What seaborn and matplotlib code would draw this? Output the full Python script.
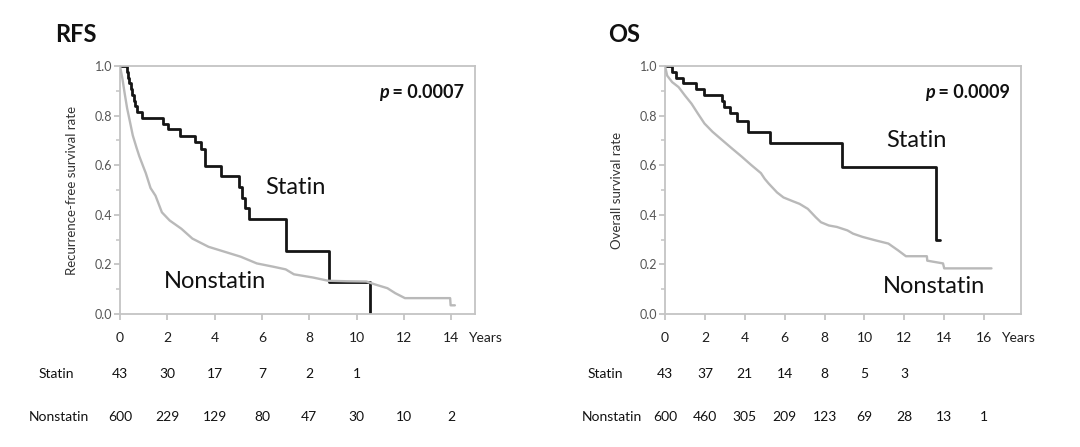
import numpy as np
import pandas as pd
import matplotlib
matplotlib.use("Agg")
import matplotlib.pyplot as plt
import matplotlib.transforms as mtransforms
from matplotlib.ticker import MultipleLocator
import seaborn as sns

# ---- RFS ----
rfs_statin_t = [0, 0.31, 0.34, 0.40, 0.45, 0.52, 0.58, 0.63, 0.70, 0.95, 1.81, 2.01, 2.52,
                3.17, 3.44, 3.60, 4.26, 5.04, 5.14, 5.28, 5.46, 7.00, 8.85, 10.55]
rfs_statin_s = [1.0, 0.977, 0.953, 0.930, 0.907, 0.884, 0.860, 0.837, 0.814, 0.791, 0.767, 0.744, 0.719,
                0.692, 0.664, 0.595, 0.557, 0.512, 0.469, 0.427, 0.384, 0.256, 0.129, 0.0]
rfs_non_t = [0, 0.1, 0.2, 0.3, 0.41, 0.54, 0.7, 0.82, 1.0, 1.09, 1.29, 1.5, 1.77, 2.1, 2.59, 3.06,
             3.74, 4.42, 5.1, 5.78, 6.46, 7.0, 7.35, 8.16, 8.8, 9.6, 10.41, 10.75, 11.3, 11.63,
             12.04, 13.95, 13.97, 14.15]
rfs_non_s = [1.0, 0.95, 0.888, 0.83, 0.78, 0.72, 0.67, 0.635, 0.59, 0.568, 0.508, 0.477, 0.41, 0.377,
             0.344, 0.304, 0.271, 0.251, 0.231, 0.204, 0.191, 0.18, 0.16, 0.147, 0.134, 0.132, 0.131,
             0.12, 0.104, 0.084, 0.064, 0.064, 0.035, 0.035]

# ---- OS ----
os_statin_t = [0, 0.36, 0.57, 0.92, 1.57, 1.98, 2.87, 2.95, 3.27, 3.60, 4.16, 5.26, 8.85, 13.6, 13.8]
os_statin_s = [1.0, 0.977, 0.953, 0.930, 0.907, 0.884, 0.860, 0.836, 0.81, 0.78, 0.735, 0.69, 0.593,
               0.299, 0.299]
os_non_t = [0, 0.11, 0.36, 0.68, 1.0, 1.33, 1.65, 1.98, 2.38, 2.87, 3.35, 3.84, 4.32, 4.81, 5.0,
            5.21, 5.62, 5.94, 6.4, 6.75, 7.16, 7.56, 7.82, 8.21, 8.62, 9.15, 9.43, 9.9, 10.55, 11.2,
            11.68, 12.08, 13.13, 13.15, 13.94, 14.0, 16.37]
os_non_s = [1.0, 0.961, 0.935, 0.915, 0.881, 0.848, 0.808, 0.768, 0.735, 0.701, 0.668, 0.635, 0.601,
            0.568, 0.545, 0.525, 0.49, 0.47, 0.455, 0.444, 0.424, 0.39, 0.37, 0.357, 0.351, 0.337,
            0.324, 0.311, 0.297, 0.284, 0.257, 0.233, 0.233, 0.215, 0.204, 0.184, 0.184]

# ---- numbers at risk ----
rfs_years = [0, 2, 4, 6, 8, 10, 12, 14]
rfs_risk_statin = [43, 30, 17, 7, 2, 1]
rfs_risk_non = [600, 229, 129, 80, 47, 30, 10, 2]
os_years = [0, 2, 4, 6, 8, 10, 12, 14, 16]
os_risk_statin = [43, 37, 21, 14, 8, 5, 3]
os_risk_non = [600, 460, 305, 209, 123, 69, 28, 13, 1]

sns.set_style("ticks")
plt.rcParams['font.family'] = ['Lato', 'DejaVu Sans']

W, H = 1080, 447
fig = plt.figure(figsize=(W / 100, H / 100), dpi=100)

def px(x0, y0, x1, y1):
    return [x0 / W, 1 - y1 / H, (x1 - x0) / W, (y1 - y0) / H]

ax1 = fig.add_axes(px(120, 66, 475, 314))
ax2 = fig.add_axes(px(665, 66, 1021, 314))

frame = '#c4c4c4'


def km_panel(ax, st_t, st_s, ns_t, ns_s, xmax, years, ylabel, pval, lab_statin, lab_non, years_x):
    sns.lineplot(x=st_t, y=st_s, ax=ax, color='#151515', lw=2.0, drawstyle='steps-post',
                 estimator=None, sort=False, zorder=2)
    sns.lineplot(x=ns_t, y=ns_s, ax=ax, color='#b9b9b9', lw=1.7, estimator=None, sort=False, zorder=3)
    ax.set_xlim(0, xmax)
    ax.set_ylim(0, 1)
    ax.set_xticks(years)
    ax.set_xticklabels([str(y) for y in years])
    ax.set_yticks(np.arange(0, 1.01, 0.2))
    ax.set_yticklabels(['%.1f' % v for v in np.arange(0, 1.01, 0.2)])
    ax.yaxis.set_minor_locator(MultipleLocator(0.1))
    for s in ax.spines.values():
        s.set_color(frame)
        s.set_linewidth(1.3)
    ax.tick_params(axis='x', which='major', length=4, width=1.3, color=frame, pad=9,
                   labelsize=10, labelcolor='#1e1e1e')
    ax.tick_params(axis='y', which='major', length=4, width=1.3, color=frame, pad=1.5,
                   labelsize=9, labelcolor='#555555')
    ax.tick_params(axis='y', which='minor', length=3, width=1.1, color=frame)
    ax.set_xlabel('')
    ax.set_ylabel(ylabel, fontsize=9.5, color='#333333', labelpad=12)
    ax.text(lab_statin[0], lab_statin[1], 'Statin', fontsize=17, ha='center', va='center',
            color='#111111')
    ax.text(lab_non[0], lab_non[1], 'Nonstatin', fontsize=17, ha='center', va='center',
            color='#111111')
    # p value: italic p + bold rest
    tv = ax.text(0.97, 0.895, ' = ' + pval, transform=ax.transAxes, fontsize=13,
                 fontweight='bold', ha='right', va='center', color='#111111')
    fig.canvas.draw()
    bb = tv.get_window_extent()
    inv = ax.transAxes.inverted()
    xl = inv.transform((bb.x0, bb.y0))[0]
    ax.text(xl, 0.895, 'p', transform=ax.transAxes, fontsize=13, fontweight='bold',
            fontstyle='italic', ha='right', va='center', color='#111111')
    yrs = mtransforms.blended_transform_factory(ax.transData, fig.transFigure)
    ax.text(years_x, 1 - 338 / H, 'Years', transform=yrs, fontsize=10, ha='left', va='center',
            color='#1e1e1e', clip_on=False)


km_panel(ax1, rfs_statin_t, rfs_statin_s, rfs_non_t, rfs_non_s, 15, rfs_years,
         'Recurrence-free survival rate', '0.0007', (7.4, 0.51), (4.0, 0.13), 14.72)
km_panel(ax2, os_statin_t, os_statin_s, os_non_t, os_non_s, 17.85, os_years,
         'Overall survival rate', '0.0009', (12.6, 0.70), (13.5, 0.11), 16.85)

# titles
fig.text(55 / W, 1 - 35 / H, 'RFS', fontsize=17, fontweight='bold', ha='left', va='center',
         color='#111111')
fig.text(608 / W, 1 - 35 / H, 'OS', fontsize=17, fontweight='bold', ha='left', va='center',
         color='#111111')

# numbers-at-risk tables
row_y = [1 - 374 / H, 1 - 417 / H]
for ax, years, rs, rn, xs, xn in [(ax1, rfs_years, rfs_risk_statin, rfs_risk_non, 56, 59),
                                   (ax2, os_years, os_risk_statin, os_risk_non, 605, 612)]:
    tr = mtransforms.blended_transform_factory(ax.transData, fig.transFigure)
    fig.text(xs / W, row_y[0], 'Statin', fontsize=10, ha='center', va='center', color='#111111')
    fig.text(xn / W, row_y[1], 'Nonstatin', fontsize=10, ha='center', va='center', color='#111111')
    for yr, n in zip(years, rs):
        ax.text(yr, row_y[0], str(n), transform=tr, fontsize=10, ha='center', va='center',
                color='#111111', clip_on=False)
    for yr, n in zip(years, rn):
        ax.text(yr, row_y[1], str(n), transform=tr, fontsize=10, ha='center', va='center',
                color='#111111', clip_on=False)

fig.savefig('out.png', dpi=100)
